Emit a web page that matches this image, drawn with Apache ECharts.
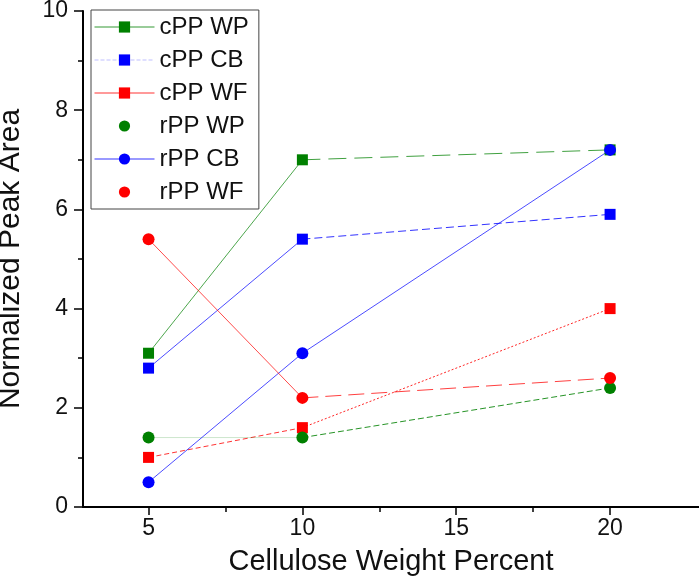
<!DOCTYPE html>
<html><head><meta charset="utf-8">
<script src="https://cdn.jsdelivr.net/npm/echarts@6/dist/echarts.min.js"></script>
<style>html,body{margin:0;padding:0;background:#fff}#c{width:699px;height:580px}</style>
</head><body><div id="c"></div>
<script>
const xCats = [5, 10, 20];
const seriesNames = ['cPP WP','cPP CB','cPP WF','rPP WP','rPP CB','rPP WF'];
const cPP_WP = [3.1, 7.0, 7.2];
const cPP_CB = [2.8, 5.4, 5.9];
const cPP_WF = [1.0, 1.6, 4.0];
const rPP_WP = [1.4, 1.4, 2.4];
const rPP_CB = [0.5, 3.1, 7.2];
const rPP_WF = [5.4, 2.2, 2.6];
const xTickLabels = [5, 10, 15, 20];
const xMinorTicks = [7.5, 12.5, 17.5];

const values = [cPP_WP, cPP_CB, cPP_WF, rPP_WP, rPP_CB, rPP_WF];
const GREEN = '#008000', BLUE = '#0000ff', RED = '#ff0000';
const colors = [GREEN, BLUE, RED, GREEN, BLUE, RED];
const symbols = ['rect','rect','rect','circle','circle','circle'];
const sizes = [11, 11, 11, 12, 12, 12];
// line style for segment 5->10 and 10->20
const seg1 = [
  {type:'solid', opacity:0.7},
  {type:'solid', opacity:0.7},
  {type:[5,3], opacity:0.8},
  {type:'solid', opacity:0.2},
  {type:'solid', opacity:0.7},
  {type:'solid', opacity:0.7}
];
const seg2 = [
  {type:[18,8], opacity:0.75},
  {type:[8,4], opacity:0.8},
  {type:[2,2], opacity:0.85},
  {type:[6,3], opacity:0.85},
  {type:'solid', opacity:0.7},
  {type:[16,7], opacity:0.75}
];
const legendLines = [
  {type:'solid', opacity:0.8, width:1},
  {type:'dashed', opacity:0.25, width:1},
  {type:'solid', opacity:0.8, width:1},
  {type:'solid', opacity:0, width:0},
  {type:'solid', opacity:0.8, width:1},
  {type:'solid', opacity:0, width:0}
];

const series = [];
seriesNames.forEach((n, i) => {
  const pts = xCats.map((x, j) => [x, values[i][j]]);
  series.push({name: n + ' a', type:'line', data: pts.slice(0,2), symbol:'none', silent:true, z:2,
    lineStyle:{color: colors[i], width:1, type: seg1[i].type, opacity: seg1[i].opacity}});
  series.push({name: n + ' b', type:'line', data: pts.slice(1,3), symbol:'none', silent:true, z:2,
    lineStyle:{color: colors[i], width:1, type: seg2[i].type, opacity: seg2[i].opacity}});
});
seriesNames.forEach((n, i) => {
  const pts = xCats.map((x, j) => [x, values[i][j]]);
  series.push({name: n, type:'line', data: pts, symbol: symbols[i], symbolSize: sizes[i], z:5,
    itemStyle:{color: colors[i]}, lineStyle:{color: colors[i], width:0, opacity:0}});
});

const font = 'Liberation Sans, Arial, sans-serif';
const chart = echarts.init(document.getElementById('c'), null, {renderer:'canvas'});
chart.setOption({
  animation:false,
  backgroundColor:'#fff',
  grid:{left:83, top:11, right:0, bottom:73, containLabel:false, outerBoundsMode:'none'},
  legend:{
    orient:'vertical', left:91, top:10,
    data: seriesNames.map((n,i)=>({name:n, lineStyle:Object.assign({color:colors[i]}, legendLines[i]), itemStyle:{color:colors[i]}})),
    itemWidth:60, itemHeight:14, itemGap:9,
    padding:[5,10,5,3],
    borderColor:'#444', borderWidth:1,
    textStyle:{fontFamily:font, fontSize:24, color:'#111'},
    selectedMode:false
  },
  xAxis:[{
    type:'value', min:2.87, max:22.89,
    axisLine:{show:true, lineStyle:{color:'#000', width:2}},
    axisTick:{show:true, customValues: xTickLabels, length:8, lineStyle:{color:'#000', width:1.5}},
    axisLabel:{customValues: xTickLabels, fontFamily:font, fontSize:23, color:'#111', margin:10},
    splitLine:{show:false},
    name:'Cellulose Weight Percent', nameLocation:'middle', nameGap:40,
    nameTextStyle:{fontFamily:font, fontSize:29, color:'#111'}
  },{
    type:'value', min:2.87, max:22.89, position:'bottom',
    axisLine:{show:false},
    axisTick:{show:true, customValues: xMinorTicks, length:5, lineStyle:{color:'#000', width:1.5}},
    axisLabel:{show:false},
    splitLine:{show:false}
  }],
  yAxis:{
    type:'value', min:0, max:10, interval:2,
    axisLine:{show:true, lineStyle:{color:'#000', width:2}},
    axisTick:{show:true, length:9, lineStyle:{color:'#000', width:1.5}},
    minorTick:{show:true, splitNumber:2, length:5, lineStyle:{color:'#000', width:1.5}},
    axisLabel:{fontFamily:font, fontSize:23, color:'#111', margin:15},
    splitLine:{show:false},
    name:'Normalized Peak Area', nameLocation:'middle', nameGap:57,
    nameTextStyle:{fontFamily:font, fontSize:30, color:'#111'}
  },
  series: series
});
</script></body></html>
